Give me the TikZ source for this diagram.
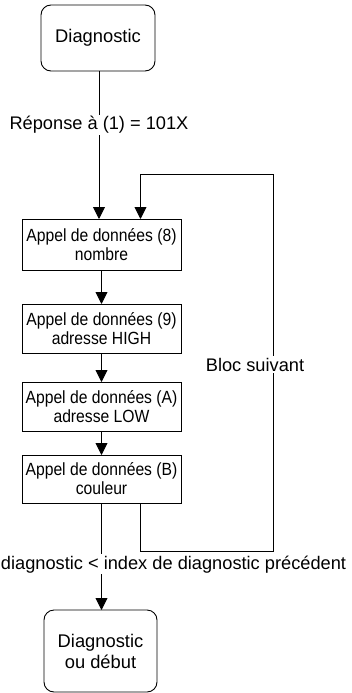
\documentclass[tikz,border=0pt]{standalone}
\usepackage{fontspec}
\setmainfont{Liberation Sans}
\newfontfamily\boxfont[FakeStretch=0.89]{Liberation Sans}
\usetikzlibrary{arrows.meta}
\begin{document}
\begin{tikzpicture}[x=1bp,y=-1bp,
  every node/.style={inner sep=0pt, outer sep=0pt},
  term/.style={draw, rounded corners=10bp, line width=0.9bp, align=center, font=\fontsize{18.4}{21}\selectfont},
  stepbox/.style={draw, line width=0.9bp, minimum width=159bp, minimum height=49bp, align=center, font=\boxfont\fontsize{17.7}{19}\selectfont},
  lab/.style={fill=white, font=\fontsize{18.3}{21}\selectfont, inner sep=1.5bp},
  flow/.style={line width=0.9bp, -{Triangle[length=12bp,width=12bp]}},
  wire/.style={line width=0.9bp}]
\useasboundingbox (0,0) rectangle (351,693);
\node[term, minimum width=114bp, minimum height=66bp] (d1) at (98,38) {Diagnostic};
\node[stepbox, minimum height=51bp] (b1) at (101.5,244.5) {Appel de données (8)\\nombre};
\node[stepbox] (b2) at (101.5,328.5) {Appel de données (9)\\adresse HIGH};
\node[stepbox] (b3) at (101.5,406.5) {Appel de données (A)\\adresse LOW};
\node[stepbox, minimum height=48bp] (b4) at (101.5,479) {Appel de données (B)\\couleur};
\node[term, minimum width=113bp, minimum height=82bp] (d2) at (100.5,651) {Diagnostic\\ou début};
\coordinate (lt) at (140.5,174);
\coordinate (rt) at (273,174);
\coordinate (rb) at (273,551);
\coordinate (lb) at (140.5,551);
\draw[flow] ([xshift=1bp]d1.south) -- ([xshift=1bp]d1.south |- b1.north);
\draw[flow] (b1.south) -- (b2.north);
\draw[flow] (b2.south) -- (b3.north);
\draw[flow] (b3.south) -- (b4.north);
\draw[flow] (b4.south) -- (b4.south |- d2.north);
\draw[flow] (b4.south -| lb) -- (lb) -- (rb) -- (rt) -- (lt) -- (lt |- b1.north);
\node[lab, anchor=base] (l1) at (99,130) {Réponse à (1) = 101X};
\node[lab, anchor=base] (l2) at (255,371) {Bloc suivant};
\node[lab, anchor=base] (l3) at (173.5,569) {diagnostic < index de diagnostic précédent};
\end{tikzpicture}
\end{document}
